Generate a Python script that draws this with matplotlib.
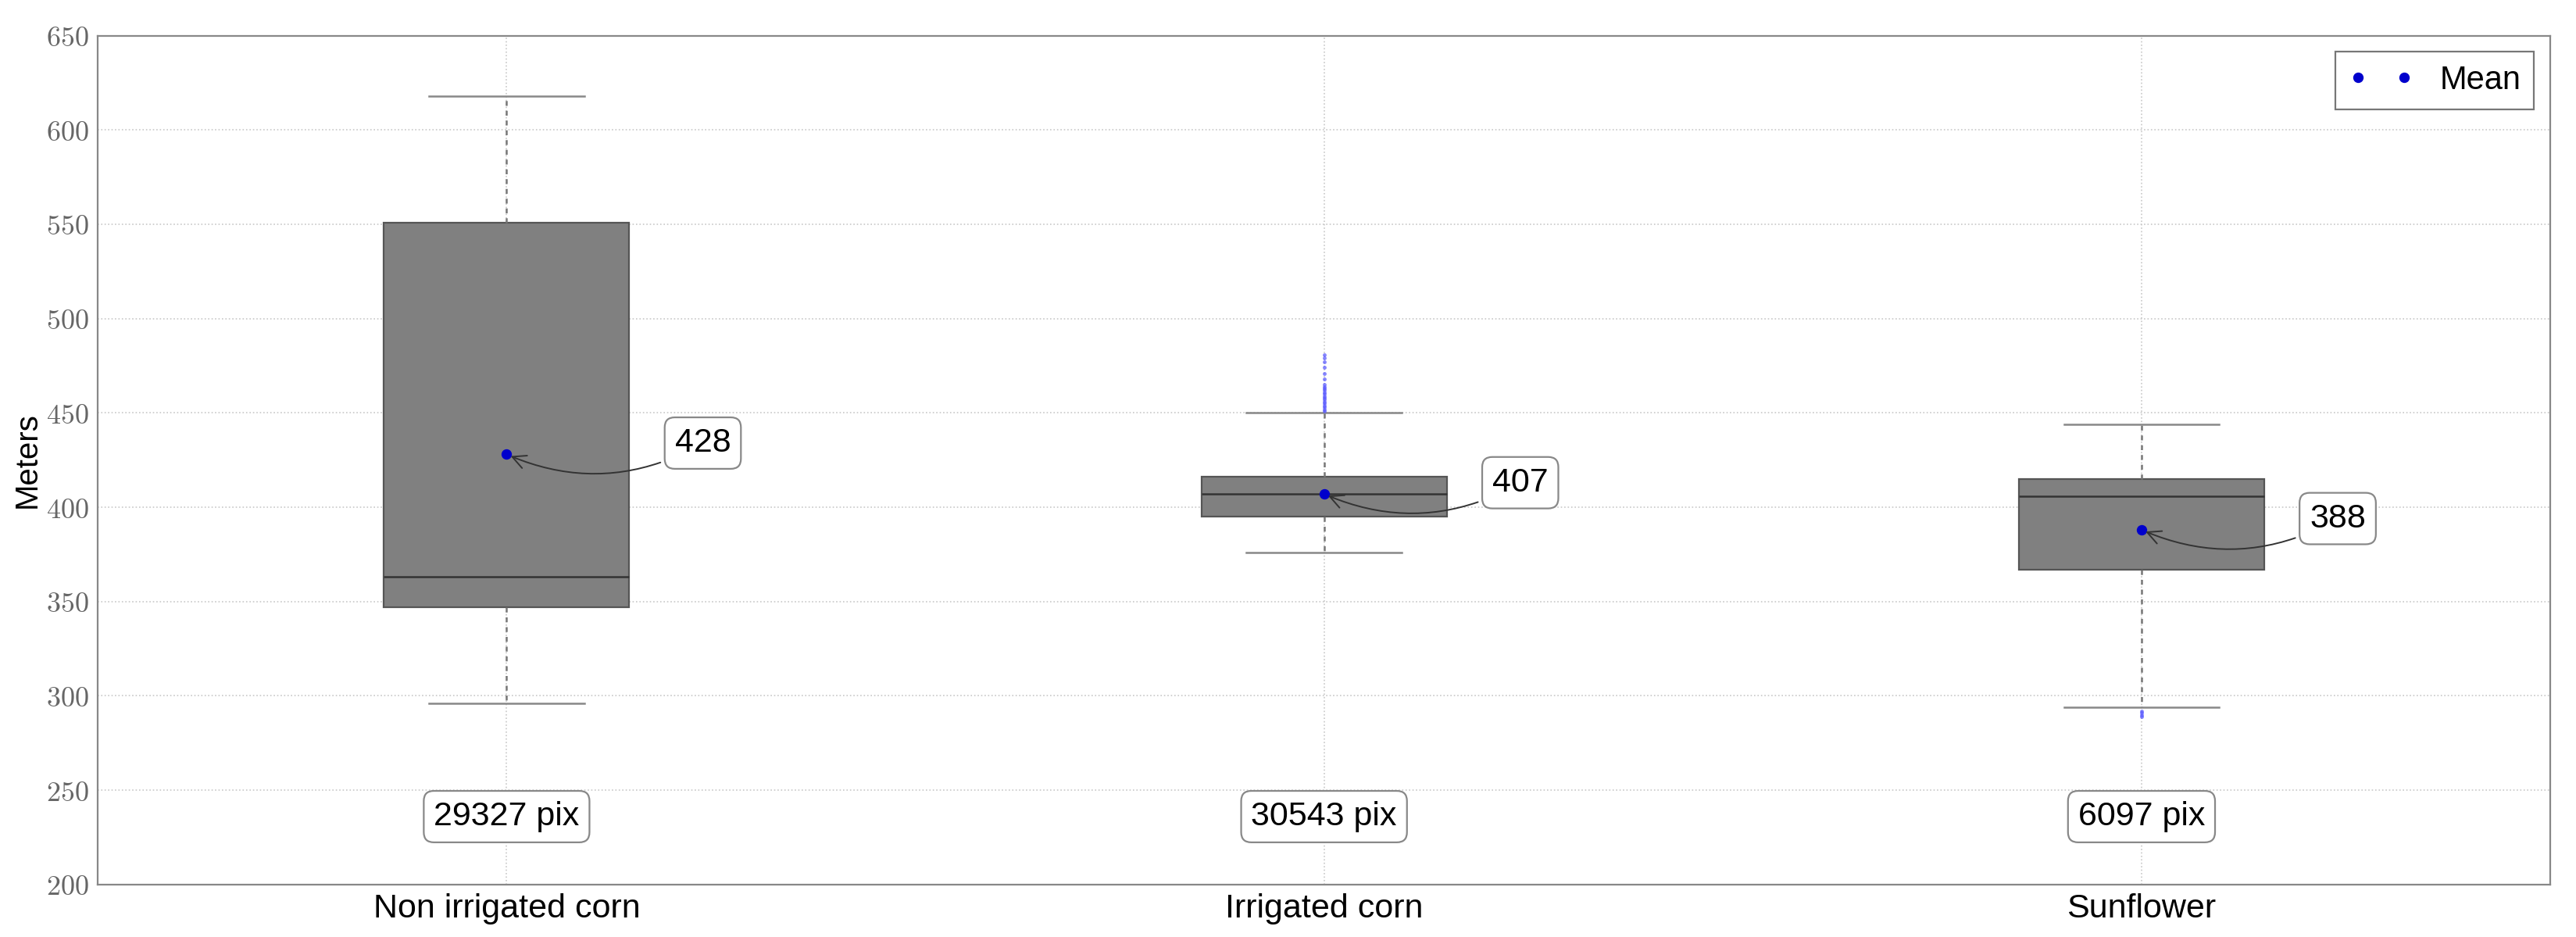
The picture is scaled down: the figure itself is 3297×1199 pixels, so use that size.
import matplotlib
matplotlib.use('Agg')
import matplotlib.pyplot as plt
from matplotlib.ticker import FuncFormatter

# Datos (metros)

categorias = ['Non irrigated corn', 'Irrigated corn', 'Sunflower']
q1 = [347, 395, 367]
mediana = [363, 407, 406]
q3 = [551, 416, 415]
bigote_bajo = [296, 376, 294]
bigote_alto = [618, 450, 444]
media = [428, 407, 388]
n_pix = [29327, 30543, 6097]

atipicos_no_riego = []
atipicos_riego = [451, 452, 453, 454, 455, 456, 457, 458, 459, 460, 461, 462,
                  463, 464, 465, 468, 471, 474, 477, 479, 481]
atipicos_girasol = [289, 290, 291, 292]
atipicos = [atipicos_no_riego, atipicos_riego, atipicos_girasol]

plt.rcParams['font.family'] = ['Liberation Sans', 'DejaVu Sans']
plt.rcParams['mathtext.fontset'] = 'cm'

fig = plt.figure(figsize=(16.485, 5.995), dpi=200)
ax = fig.add_axes([0.038, 0.056, 0.952, 0.906])

posiciones = [1, 2, 3]
stats = []
for i in range(3):
    stats.append({'label': categorias[i], 'q1': q1[i], 'med': mediana[i], 'q3': q3[i],
                  'whislo': bigote_bajo[i], 'whishi': bigote_alto[i], 'fliers': atipicos[i]})

ax.bxp(stats, positions=posiciones, widths=0.3, capwidths=0.19, patch_artist=True,
       showfliers=True, zorder=2,
       boxprops=dict(facecolor='#808080', edgecolor='#555555', linewidth=0.8),
       medianprops=dict(color='#333333', linewidth=0.9),
       whiskerprops=dict(color='#777777', linestyle=(0, (2.5, 2.5)), linewidth=0.9),
       capprops=dict(color='#888888', linewidth=0.9),
       flierprops=dict(marker='.', markersize=3.5, markerfacecolor='#5555ff',
                       markeredgecolor='none', alpha=0.7))

ax.plot(posiciones, media, linestyle='none', marker='o', markersize=3.8,
        color='#0000cc', label='Mean', zorder=4)

# Anotaciones de la media
for p, m in zip(posiciones, media):
    ax.annotate(str(m), xy=(p, m), xytext=(p + 0.24, m + 6), fontsize=15.5,
                ha='center', va='center',
                bbox=dict(boxstyle='round,pad=0.3', fc='white', ec='#888888', lw=0.8),
                arrowprops=dict(arrowstyle='->', color='#333333', lw=0.7,
                                connectionstyle='arc3,rad=-0.25'), zorder=5)

# Numero de pixeles
for p, n in zip(posiciones, n_pix):
    ax.text(p, 236, str(n) + ' pix', fontsize=15.5, ha='center', va='center',
            bbox=dict(boxstyle='round,pad=0.3', fc='white', ec='#888888', lw=0.8), zorder=5)

ax.set_xlim(0.5, 3.5)
ax.set_ylim(200, 650)
ax.set_xticks(posiciones)
ax.set_xticklabels(categorias, fontsize=15.5)
ax.set_yticks(range(200, 651, 50))
ax.yaxis.set_major_formatter(FuncFormatter(lambda v, pos: r'$%d$' % v))
ax.tick_params(axis='y', labelsize=13, labelcolor='#666666', length=0, pad=4)
ax.tick_params(axis='x', length=0, pad=4)
ax.set_ylabel('Meters', fontsize=14.5, labelpad=2)

ax.grid(True, linestyle=':', color='#c8c8c8', linewidth=0.6, zorder=0)
ax.set_axisbelow(True)
for s in ax.spines.values():
    s.set_color('#888888')
    s.set_linewidth(0.8)

leg = ax.legend(loc='upper right', numpoints=2, fontsize=15, fancybox=False,
                edgecolor='#555555', borderpad=0.4, handlelength=2.0)
leg.get_frame().set_linewidth(0.8)

plt.savefig('out.png', dpi=200)
plt.close()
